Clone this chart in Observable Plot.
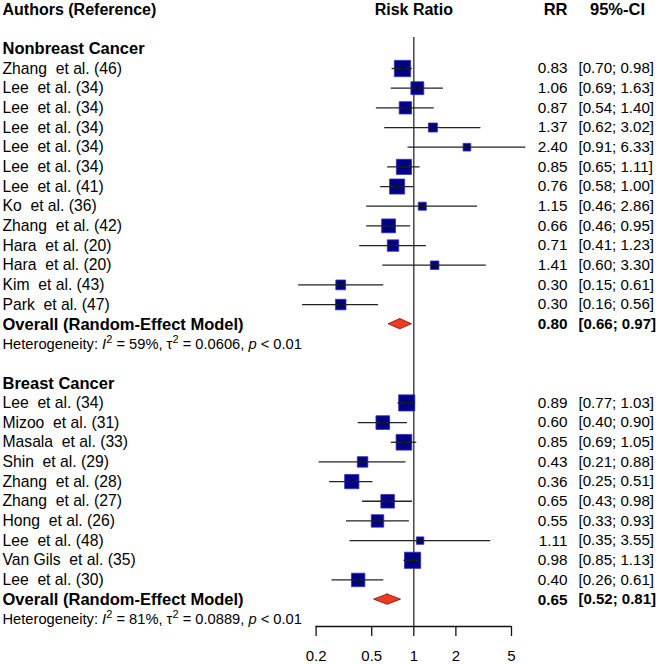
<!DOCTYPE html>
<html><head><meta charset="utf-8">
<script src="https://cdn.jsdelivr.net/npm/d3@7"></script>
<script src="https://cdn.jsdelivr.net/npm/@observablehq/plot@0.6"></script>
<style>
body{margin:0;background:#fff;}
svg text{white-space:pre;}
</style></head><body><div id="chart"></div>
<script>
// ---- data ----
const nbStudies = ["Zhang  et al. (46)","Lee  et al. (34)","Lee  et al. (34)","Lee  et al. (34)","Lee  et al. (34)","Lee  et al. (34)","Lee  et al. (41)","Ko  et al. (36)","Zhang  et al. (42)","Hara  et al. (20)","Hara  et al. (20)","Kim  et al. (43)","Park  et al. (47)"];
const nbRR = [0.83,1.06,0.87,1.37,2.40,0.85,0.76,1.15,0.66,0.71,1.41,0.30,0.30];
const nbLo = [0.70,0.69,0.54,0.62,0.91,0.65,0.58,0.46,0.46,0.41,0.60,0.15,0.16];
const nbHi = [0.98,1.63,1.40,3.02,6.33,1.11,1.00,2.86,0.95,1.23,3.30,0.61,0.56];
const nbWeight = [14.4,9.0,8.2,4.4,3.2,12.4,12.3,3.5,10.4,7.1,3.9,5.2,6.0];
const nbOverall = {rr:0.80, lo:0.66, hi:0.97};
const nbHet = {i2:"59%", tau2:"0.0606", p:"< 0.01"};

const bStudies = ["Lee  et al. (34)","Mizoo  et al. (31)","Masala  et al. (33)","Shin  et al. (29)","Zhang  et al. (28)","Zhang  et al. (27)","Hong  et al. (26)","Lee  et al. (48)","Van Gils  et al. (35)","Lee  et al. (30)"];
const bRR = [0.89,0.60,0.85,0.43,0.36,0.65,0.55,1.11,0.98,0.40];
const bLo = [0.77,0.40,0.69,0.21,0.25,0.43,0.33,0.35,0.85,0.26];
const bHi = [1.03,0.90,1.05,0.88,0.51,0.98,0.93,3.55,1.13,0.61];
const bWeight = [14.1,10.1,13.3,6.0,11.0,10.0,8.4,3.0,14.2,9.8];
const bOverall = {rr:0.65, lo:0.52, hi:0.81};
const bHet = {i2:"81%", tau2:"0.0889", p:"< 0.01"};

const groupTitles = ["Nonbreast Cancer","Breast Cancer"];
const headers = {authors:"Authors (Reference)", effect:"Risk Ratio", rr:"RR", ci:"95%-CI"};
const overallLabel = "Overall (Random-Effect Model)";
const xTicks = [0.2,0.5,1,2,5];

// ---- build table ----
const groups = [
  {title:groupTitles[0], studies:nbStudies, rr:nbRR, lo:nbLo, hi:nbHi, w:nbWeight, overall:nbOverall, het:nbHet},
  {title:groupTitles[1], studies:bStudies, rr:bRR, lo:bLo, hi:bHi, w:bWeight, overall:bOverall, het:bHet}
];
const labels = [], studies = [], overalls = [], hets = [], diamond = [];
let row = 2;
groups.forEach((g, gi) => {
  labels.push({row, text:g.title, bold:true}); row++;
  g.studies.forEach((s,i) => {
    labels.push({row, text:s, bold:false});
    studies.push({row, rr:g.rr[i], lo:g.lo[i], hi:g.hi[i], w:g.w[i], bold:false});
    row++;
  });
  labels.push({row, text:overallLabel, bold:true});
  overalls.push({row, ...g.overall, bold:true});
  const h = 0.26;
  diamond.push({g:gi, y:row-h, x1:g.overall.rr, x2:g.overall.rr});
  diamond.push({g:gi, y:row, x1:g.overall.lo, x2:g.overall.hi});
  diamond.push({g:gi, y:row+h, x1:g.overall.rr, x2:g.overall.rr});
  row++;
  hets.push({row, het:g.het, text:`Heterogeneity: I² = ${g.het.i2}, τ² = ${g.het.tau2}, p ${g.het.p}`});
  row++;
  row++;
});
const lastRow = row - 2;
const numeric = [...studies, ...overalls].map(d => ({
  row:d.row, bold:d.bold, rrText:d.rr.toFixed(2), ciText:`[${d.lo.toFixed(2)}; ${d.hi.toFixed(2)}]`
}));
const plainLabels = labels.filter(d => !d.bold), boldLabels = labels.filter(d => d.bold);
const plainNum = numeric.filter(d => !d.bold), boldNum = numeric.filter(d => d.bold);

const W = 662, H = 664;
const font = "'Liberation Sans', Arial, sans-serif";

const chart = Plot.plot({
  width: W, height: H,
  marginTop: 37, marginBottom: 38, marginLeft: 0, marginRight: 0,
  style: {fontFamily: font, fontSize: "16px", color: "#000", background: "#fff", overflow: "visible"},
  x: {type: "log", domain: [0.2, 5], range: [315.6, 511], axis: null},
  y: {domain: [0, lastRow], range: [9, 618.8], axis: null},
  r: {type: "sqrt", domain: [0, 16], range: [0, 9.7]},
  marks: [
    // reference line at RR = 1
    Plot.ruleX([1], {stroke: "#3a3a3a", strokeWidth: 1.4}),
    // axis line
    Plot.ruleY([lastRow], {x1: xTicks[0], x2: xTicks[xTicks.length-1], dy: 7.2, stroke: "#111", strokeWidth: 1.3}),
    Plot.axisX({ticks: xTicks, tickFormat: d => `${d}`, tickSize: 10, tickPadding: 14, fontSize: 15, stroke: "#111", strokeWidth: 1.3, label: null}),
    // study squares
    Plot.dot(studies, {x: "rr", y: "row", r: "w", symbol: "square", fill: "#00008B", stroke: "#3232b4", strokeWidth: 0.8}),
    // CIs
    Plot.ruleY(studies, {y: "row", x1: "lo", x2: "hi", stroke: "#222", strokeWidth: 1.3}),
    Plot.dot(studies, {x: "rr", y: "row", symbol: "plus", r: 2.2, stroke: "#111", strokeWidth: 0.8}),
    // diamonds
    Plot.areaX(diamond, {y: "y", x1: "x1", x2: "x2", z: "g", fill: "#EE3B1B", stroke: "#8B1A1A", strokeWidth: 0.9}),
    // headers
    Plot.text([headers.authors], {frameAnchor: "left", y: () => 0, dx: 2, text: d => d, textAnchor: "start", fontWeight: "bold", fontSize: 16}),
    Plot.text([headers.effect], {x: () => 1, y: () => 0, text: d => d, fontWeight: "bold", fontSize: 16}),
    Plot.text([headers.rr], {frameAnchor: "right", y: () => 0, dx: -95, text: d => d, textAnchor: "end", fontWeight: "bold", fontSize: 16.5}),
    Plot.text([headers.ci], {frameAnchor: "left", y: () => 0, dx: 617, text: d => d, textAnchor: "middle", fontWeight: "bold", fontSize: 16.5}),
    // left labels
    Plot.text(plainLabels, {frameAnchor: "left", y: "row", dx: 2, text: "text", textAnchor: "start", fontSize: 15.7}),
    Plot.text(boldLabels, {frameAnchor: "left", y: "row", dx: 2, text: "text", textAnchor: "start", fontWeight: "bold", fontSize: 16.5}),
    Plot.text(hets, {frameAnchor: "left", y: "row", dx: 2, text: "text", textAnchor: "start", fontSize: 14.7}),
    // right columns
    Plot.text(plainNum, {frameAnchor: "right", y: "row", dx: -95, text: "rrText", textAnchor: "end", fontSize: 15.3}),
    Plot.text(plainNum, {frameAnchor: "left", y: "row", dx: 578, text: "ciText", textAnchor: "start", fontSize: 15.1}),
    Plot.text(boldNum, {frameAnchor: "right", y: "row", dx: -95, text: "rrText", textAnchor: "end", fontWeight: "bold", fontSize: 15.3}),
    Plot.text(boldNum, {frameAnchor: "left", y: "row", dx: 578, text: "ciText", textAnchor: "start", fontWeight: "bold", fontSize: 15})
  ]
});

// rich formatting of heterogeneity lines (italic I and p, superscript 2)
d3.select(chart).selectAll("text").each(function() {
  const t = this.textContent;
  if (!t.startsWith("Heterogeneity:")) return;
  const h = hets.find(d => d.text === t);
  if (!h) return;
  const parts = [
    ["Heterogeneity: ", ""], ["I", "it"], ["2", "sup"], [` = ${h.het.i2}, τ`, "back"], ["2", "sup"],
    [` = ${h.het.tau2}, `, "back"], ["p", "it"], [` ${h.het.p}`, ""]
  ];
  const el = d3.select(this);
  el.text(null);
  parts.forEach(([s, k]) => {
    const ts = el.append("tspan").text(s);
    if (k === "it") ts.attr("font-style", "italic");
    if (k === "sup") ts.attr("dy", -6).attr("font-size", 11);
    if (k === "back") ts.attr("dy", 6);
  });
});

document.getElementById("chart").append(chart);
</script></body></html>
